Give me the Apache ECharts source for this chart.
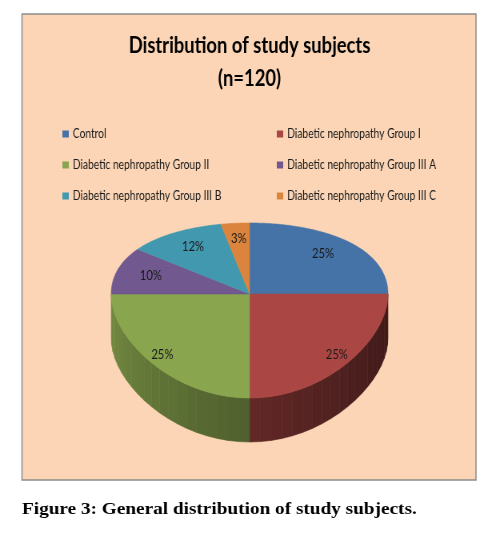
<!DOCTYPE html>
<html>
<head>
<meta charset="utf-8">
<script src="https://cdn.jsdelivr.net/npm/echarts@6/dist/echarts.min.js"></script>
<style>
  html, body { margin: 0; padding: 0; background: #fff; overflow: hidden; }
  /* the original figure was squeezed sideways, so the whole chart is too */
  #chart { width: 624px; height: 536px; transform: scaleX(0.8); transform-origin: 0 0; }
</style>
</head>
<body>
<div id="chart"></div>
<script>
var categories = [
  'Control',
  'Diabetic nephropathy Group I',
  'Diabetic nephropathy Group II',
  'Diabetic nephropathy Group III A',
  'Diabetic nephropathy Group III B',
  'Diabetic nephropathy Group III C'
];
var counts = [30, 30, 30, 12, 14, 4];
var colors = ['#4572A7', '#AA4643', '#89A54E', '#71588F', '#4198AF', '#DB843D'];
var titleText = 'Distribution of study subjects\n(n=120)';
var captionText = 'Figure 3: General distribution of study subjects.';
var leftColumn = [categories[0], categories[2], categories[4]];
var rightColumn = [categories[1], categories[3], categories[5]];

var SQUEEZE = 0.8;
var SANS = 'Lato, "Liberation Sans", sans-serif';

var total = counts.reduce(function (a, b) { return a + b; }, 0);
var starts = [];
var acc = 0;
counts.forEach(function (c) { starts.push(acc); acc += c; });

// 3d pie look: tilted disc with a little perspective
var CX = 312, CY = 294, RX = 173, RY = 84.4, PERSP = 0.1886, DEPTH = 44;

function proj(t, f) {
  var u = Math.cos(t) * f, v = Math.sin(t) * f;
  return [CX + RX * u, CY + RY * v / (1 - PERSP * v)];
}

function shade(hex, k) {
  var n = parseInt(hex.slice(1), 16);
  var r = Math.round(((n >> 16) & 255) * k);
  var g = Math.round(((n >> 8) & 255) * k);
  var b = Math.round((n & 255) * k);
  return 'rgb(' + r + ',' + g + ',' + b + ')';
}

function renderSlice(i) {
  return function (params, api) {
    var val = api.value(0);
    var t1 = -Math.PI / 2 + starts[i] / total * 2 * Math.PI;
    var t2 = t1 + val / total * 2 * Math.PI;
    var children = [];

    // visible side wall (front half only), lit from the left
    var lo = Math.max(t1, 0), hi = Math.min(t2, Math.PI);
    if (lo < hi) {
      var step = Math.PI / 40;
      for (var a = lo; a < hi - 1e-6; a += step) {
        var b = Math.min(a + step, hi);
        var p1 = proj(a, 1), p2 = proj(b, 1);
        var k = 0.36 + 0.5 * Math.pow((a + b) / 2 / Math.PI, 1.2);
        var c = shade(colors[i], k);
        children.push({
          type: 'polygon',
          shape: { points: [p1, p2, [p2[0], p2[1] + DEPTH], [p1[0], p1[1] + DEPTH]] },
          style: { fill: c, stroke: c, lineWidth: 0.6 }
        });
      }
    }

    // top face
    var pts = [[CX, CY]];
    var n = Math.max(2, Math.ceil((t2 - t1) / (Math.PI / 180)));
    for (var j = 0; j <= n; j++) {
      pts.push(proj(t1 + (t2 - t1) * j / n, 1));
    }
    children.push({
      type: 'polygon',
      shape: { points: pts },
      style: { fill: colors[i], stroke: colors[i], lineWidth: 0.6 }
    });

    // percent label
    var m = (t1 + t2) / 2;
    var f = 0.75 + 0.2 * Math.max(0, Math.sin(m));
    var lp = proj(m, f);
    children.push({
      type: 'text',
      style: {
        text: Math.round(val / total * 100) + '%',
        x: lp[0], y: lp[1],
        fill: '#1a1a1a',
        font: '14px ' + SANS,
        align: 'center',
        verticalAlign: 'middle'
      }
    });

    return { type: 'group', children: children };
  };
}

var legendBase = {
  orient: 'vertical',
  top: 127,
  padding: 0,
  icon: 'rect',
  itemWidth: 8,
  itemHeight: 7,
  itemGap: 17,
  selectedMode: false,
  textStyle: { fontFamily: SANS, fontSize: 12.8, lineHeight: 14, color: '#1a1a1a' }
};

var chart = echarts.init(document.getElementById('chart'));
chart.setOption({
  animation: false,
  backgroundColor: '#ffffff',
  graphic: [{
    type: 'rect',
    silent: true,
    z: -1,
    shape: { x: 27.5, y: 14, width: 567.5, height: 466 },
    style: { fill: '#FBD5B5', stroke: '#8c8c8c', lineWidth: 1.5 }
  }, {
    type: 'text',
    silent: true,
    x: 27.5,
    y: 509,
    scaleX: 1.1 / SQUEEZE,
    style: {
      text: captionText,
      fill: '#000',
      font: 'bold 17.5px "Liberation Serif", serif',
      align: 'left',
      verticalAlign: 'middle'
    }
  }],
  title: {
    text: titleText,
    left: 'center',
    top: 24,
    textStyle: { fontFamily: SANS, fontWeight: 'bold', fontSize: 23, lineHeight: 33, color: '#000' }
  },
  legend: [
    Object.assign({}, legendBase, { left: 78, data: leftColumn }),
    Object.assign({}, legendBase, { left: 346, data: rightColumn })
  ],
  series: categories.map(function (name, i) {
    return {
      type: 'custom',
      name: name,
      coordinateSystem: 'none',
      itemStyle: { color: colors[i] },
      renderItem: renderSlice(i),
      data: [[counts[i]]]
    };
  })
});
</script>
</body>
</html>
